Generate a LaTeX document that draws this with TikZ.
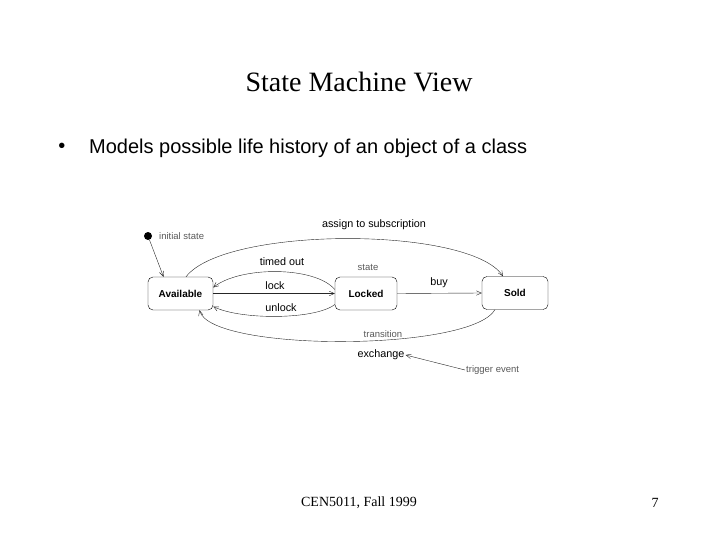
\documentclass[tikz,border=0pt]{standalone}
\usepackage{fontspec}
\setmainfont{Liberation Serif}
\setsansfont{Liberation Sans}
\usetikzlibrary{arrows.meta}

\begin{document}
\begin{tikzpicture}[x=1pt, y=1pt,
  state/.style={draw, rounded corners=5pt, minimum height=33pt, inner sep=2pt,
                font=\sffamily\bfseries\fontsize{10}{11}\selectfont},
  ev/.style={inner sep=1pt, font=\sffamily\fontsize{10.8}{12}\selectfont},
  note/.style={inner sep=1pt, text=black!65,
               font=\sffamily\fontsize{9.5}{11}\selectfont},
  arr/.style={-{Straight Barb[length=5pt, width=4.5pt]}, thin, black!85}]

  \path[use as bounding box] (0,0) rectangle (720,-540);

  % slide text
  \node[font=\fontsize{28}{32}\selectfont] (title) at (359,-82) {State Machine View};
  \node[font=\sffamily\fontsize{20}{24}\selectfont] (bull) at (62,-148) {\textbullet};
  \node[anchor=west, inner sep=0pt, font=\sffamily\fontsize{20}{24}\selectfont]
    (lead) at (89,-148) {Models possible life history of an object of a class};
  \node[font=\fontsize{14}{16}\selectfont] (foot) at (359,-503) {CEN5011, Fall 1999};
  \node[font=\fontsize{14}{16}\selectfont] (page) at (655,-503) {7};

  % states
  \node[state, minimum width=65pt] (avail) at (180.5,-293.5) {Available};
  \node[state, minimum width=62pt] (locked) at (366,-293.5) {Locked};
  \node[state, minimum width=66pt] (sold) at (515,-293) {Sold};
  \node[circle, fill=black, inner sep=0pt, minimum size=8pt] (init) at (148,-236) {};

  % labels
  \node[note, anchor=west] (initlb) at (158,-236) {initial state};
  \node[ev] (assign) at (374,-225) {assign to subscription};
  \node[ev] (timed) at (282,-262) {timed out};
  \node[note] (statelb) at (368,-267) {state};
  \node[ev] (locklb) at (275,-286) {lock};
  \node[ev] (unlocklb) at (281,-308) {unlock};
  \node[ev] (buylb) at (439,-283) {buy};
  \node[note] (translb) at (383,-334) {transition};
  \node[ev] (exch) at (381,-355) {exchange};
  \node[note, anchor=west] (trig) at (465,-370) {trigger event};

  % transitions
  \draw[arr] (init) -- ([xshift=-17pt]avail.north);
  \draw[arr] ([xshift=5.5pt]avail.north) .. controls (225,-226) and (470,-226)
    .. ([xshift=-12pt]sold.north);
  \draw[arr] ([yshift=4pt]locked.west) .. controls (315,-266) and (240,-266)
    .. ([yshift=6pt]avail.east);
  \draw[arr] (avail.east) -- (locked.west);
  \draw[arr] ([yshift=-11pt]locked.west) .. controls (315,-320) and (240,-320)
    .. ([yshift=-13pt]avail.east);
  \draw[arr] (locked.east) -- (sold.west);
  \draw[arr] ([xshift=-20pt]sold.south) .. controls (470,-352) and (210,-352)
    .. ([xshift=19pt]avail.south);
  \draw[arr] (trig.west) -- (exch.east);
\end{tikzpicture}
\end{document}
